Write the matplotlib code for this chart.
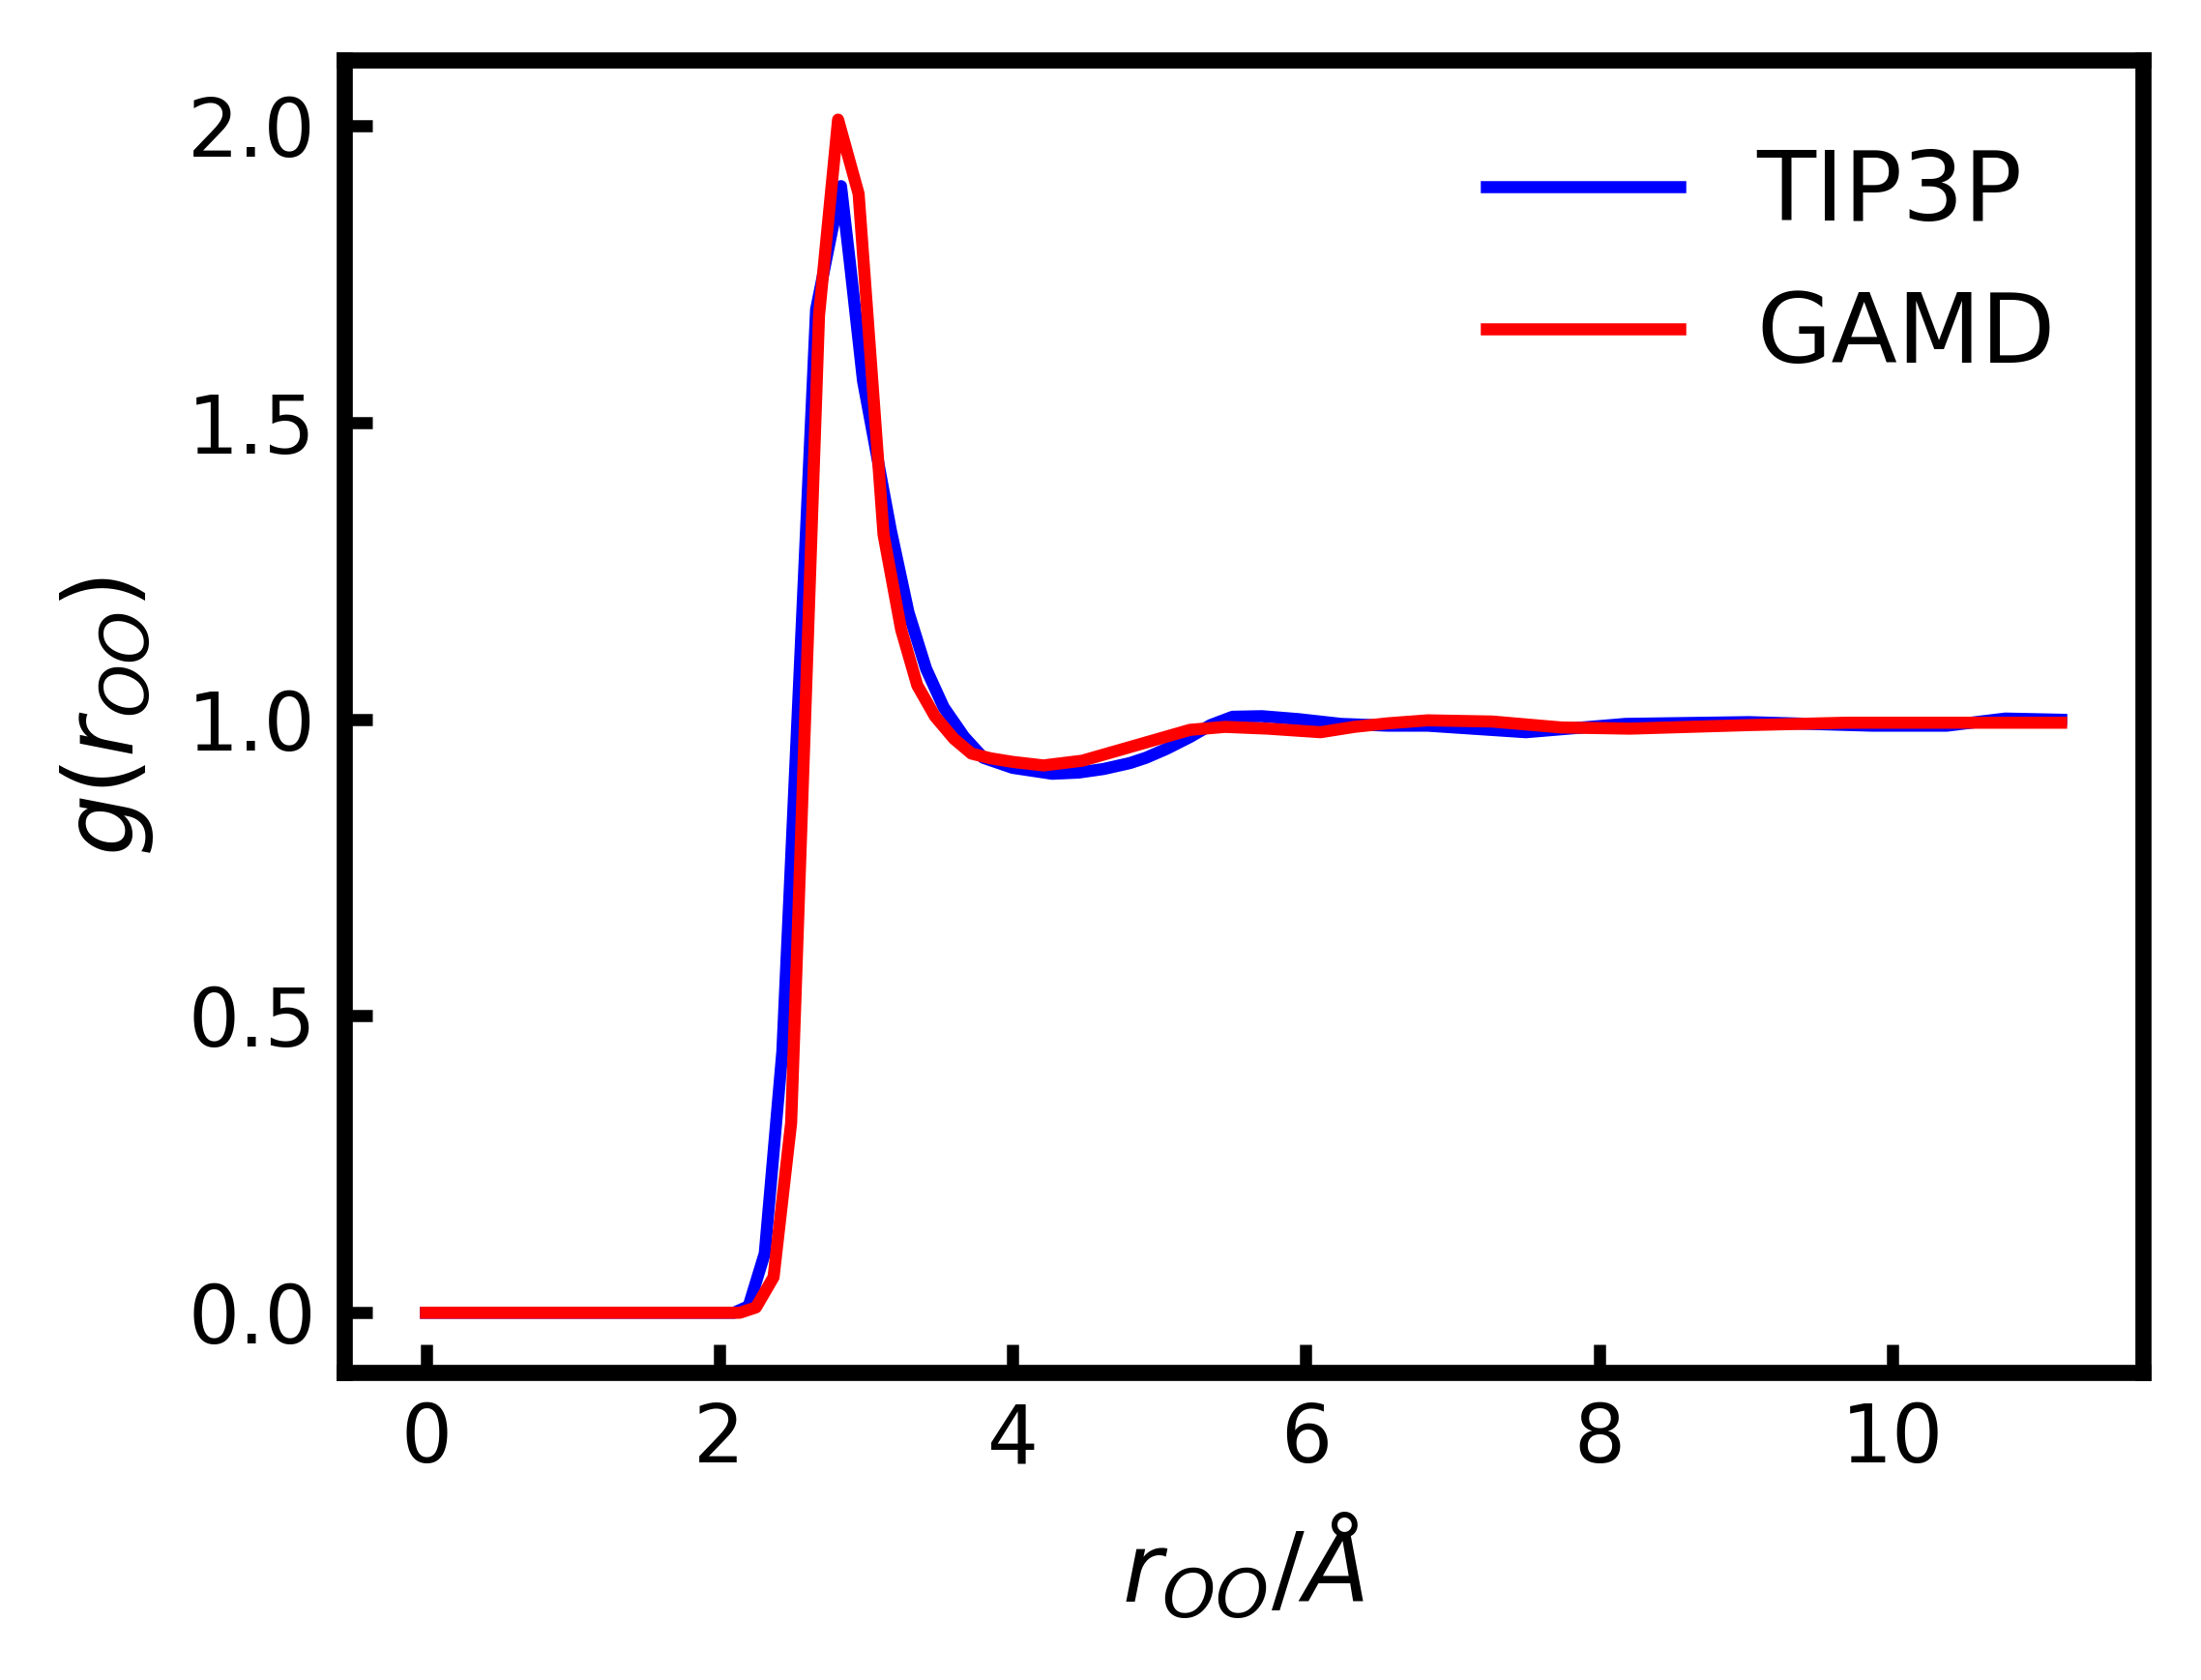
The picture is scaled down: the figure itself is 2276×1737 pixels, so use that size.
import matplotlib
matplotlib.use("Agg")
import matplotlib.pyplot as plt

# O-O radial distribution function
r_tip3p = [0, 2.10, 2.20, 2.31, 2.43, 2.66, 2.83, 2.89, 2.98, 3.17, 3.29, 3.41,
           3.53, 3.67, 3.80, 4.00, 4.27, 4.45, 4.62, 4.80, 4.91, 5.05, 5.21,
           5.35, 5.50, 5.70, 5.95, 6.24, 6.56, 6.83, 7.50, 8.18, 9.02, 9.86,
           10.37, 10.77, 11.15]
g_tip3p = [0, 0, 0.011, 0.10, 0.44, 1.69, 1.898, 1.77, 1.57, 1.318, 1.18, 1.085,
           1.02, 0.97, 0.935, 0.918, 0.908, 0.910, 0.916, 0.926, 0.935, 0.950, 0.970,
           0.990, 1.004, 1.005, 1.0, 0.992, 0.989, 0.989, 0.978, 0.992, 0.995, 0.989,
           0.989, 1.001, 0.999]

r_gamd = [0, 2.14, 2.25, 2.37, 2.49, 2.68, 2.81, 2.95, 3.12, 3.24, 3.35, 3.47,
          3.60, 3.72, 3.85, 4.00, 4.21, 4.475, 4.857, 5.21, 5.45, 5.74, 6.10,
          6.33, 6.56, 6.83, 7.27, 7.74, 8.21, 9.02, 9.69, 10.37, 11.15]
g_gamd = [0, 0, 0.009, 0.06, 0.32, 1.68, 2.01, 1.885, 1.311, 1.151, 1.057, 1.005,
          0.967, 0.942, 0.934, 0.928, 0.922, 0.930, 0.957, 0.982, 0.987, 0.984, 0.978,
          0.987, 0.993, 0.998, 0.996, 0.986, 0.984, 0.990, 0.994, 0.994, 0.994]

fig = plt.figure(figsize=(2276 / 600, 1737 / 600), dpi=600)
fig.subplots_adjust(left=0.1564, right=0.9736, bottom=0.1831, top=0.9643)
ax = fig.add_subplot(111)

ax.plot(r_tip3p, g_tip3p, color='blue', lw=1.5, label='TIP3P')
ax.plot(r_gamd, g_gamd, color='red', lw=1.5, label='GAMD')

ax.set_xlabel(r'$r_{OO}/Å$', fontsize=12)
ax.set_ylabel(r'$g(r_{OO})$', fontsize=12)
ax.set_yticks([0.0, 0.5, 1.0, 1.5, 2.0])
ax.tick_params(direction='in', width=1.5, length=3.5, labelsize=10)
for side in ax.spines.values():
    side.set_linewidth(2)

ax.legend(loc='upper right', frameon=False, fontsize=12)

fig.savefig('out.png', dpi=600)
